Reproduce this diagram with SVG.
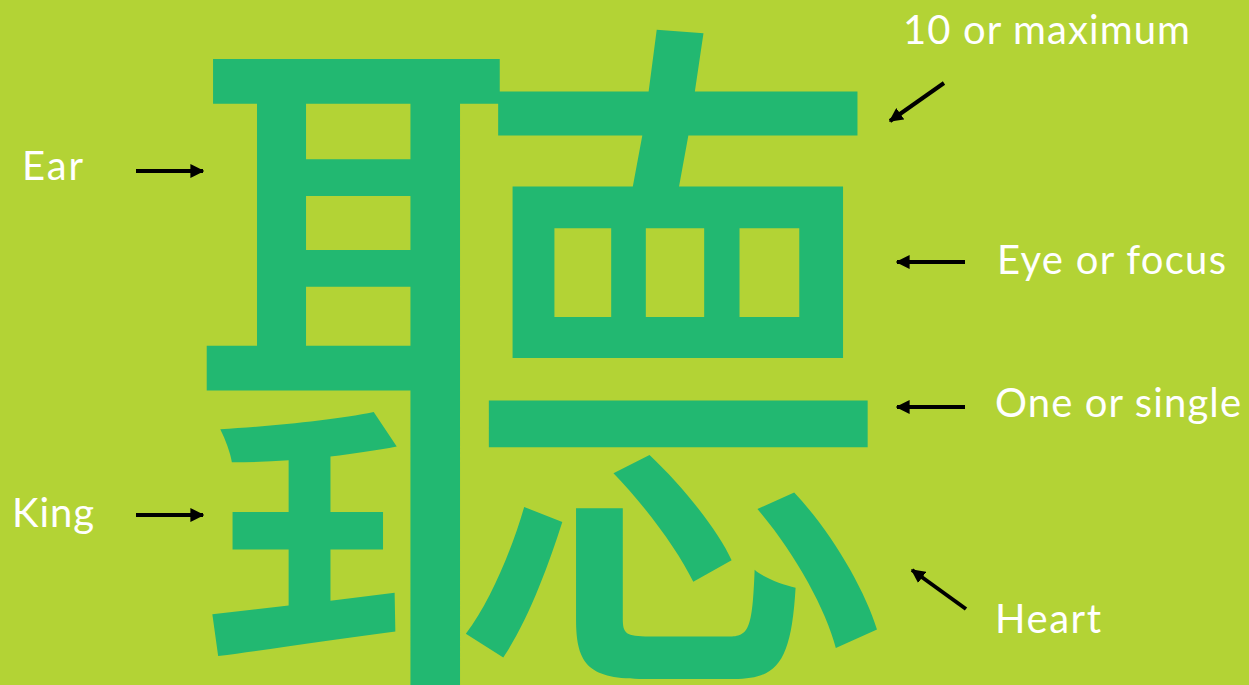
<svg xmlns="http://www.w3.org/2000/svg" width="1249" height="685" viewBox="0 0 1249 685">
<style>
.lbl{font-family:Lato,"Open Sans","Liberation Sans",sans-serif;font-size:40px;fill:#ffffff}
.glyph{font-family:"Noto Sans CJK TC","Noto Sans CJK SC",sans-serif;fill:#22b871}
.arr{stroke:#000;stroke-width:4;fill:none;marker-end:url(#ah)}
</style>
<defs>
<marker id="ah" viewBox="0 0 10 10" refX="9" refY="5" markerWidth="3.5" markerHeight="3.5" orient="auto" markerUnits="strokeWidth">
<path d="M0,0 L10,5 L0,10 z" fill="#000"/>
</marker>
</defs>
<rect width="1249" height="685" fill="#b3d335"/>
<g id="character">
<text class="glyph" x="540" y="633" font-size="720" text-anchor="middle">聽</text>
</g>
<g id="label-ear"><text class="lbl" x="22" y="180" textLength="61">Ear</text></g>
<g id="label-king"><text class="lbl" x="12" y="527" textLength="82">King</text></g>
<g id="label-ten"><text class="lbl" x="903" y="44" textLength="287">10 or maximum</text></g>
<g id="label-eye"><text class="lbl" x="997" y="274" textLength="229">Eye or focus</text></g>
<g id="label-one"><text class="lbl" x="995" y="417" textLength="246">One or single</text></g>
<g id="label-heart"><text class="lbl" x="995" y="633" textLength="106">Heart</text></g>
<g id="connectors">
<line class="arr" x1="136" y1="171" x2="203" y2="171"/>
<line class="arr" x1="136" y1="515" x2="203" y2="515"/>
<line class="arr" x1="944" y1="83" x2="890" y2="121"/>
<line class="arr" x1="965" y1="262" x2="897" y2="262"/>
<line class="arr" x1="965" y1="407" x2="897" y2="407"/>
<line class="arr" x1="966" y1="609" x2="912" y2="570"/>
</g>
</svg>
